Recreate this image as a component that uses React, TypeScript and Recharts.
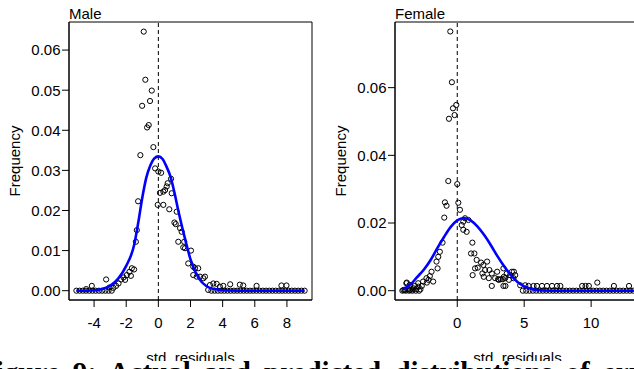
import React from 'react';
import {
  ComposedChart,
  Scatter,
  Line,
  XAxis,
  YAxis,
  ReferenceLine,
  ReferenceArea,
  Label,
} from 'recharts';

const FONT = '"Liberation Sans", Arial, Helvetica, sans-serif';

// ---- Male panel ----
const maleXTicks = [-4, -2, 0, 2, 4, 6, 8];
const maleYTicks = [0, 0.01, 0.02, 0.03, 0.04, 0.05, 0.06];
const maleXDomain: [number, number] = [-5.56, 9.56];
const maleYDomain: [number, number] = [-0.00232, 0.067];

const malePeak: [number, number][] = [
  [-1.12, 0.0338], [-1.01, 0.0461], [-0.91, 0.0646], [-0.81, 0.0526], [-0.7, 0.0407],
  [-0.6, 0.0413], [-0.52, 0.0473], [-0.41, 0.0499], [-0.31, 0.0358], [-0.2, 0.0305],
  [0.0, 0.0297], [0.17, 0.0294], [0.79, 0.0279], [0.58, 0.0268], [0.52, 0.026],
  [0.42, 0.0251], [0.31, 0.0247], [0.1, 0.0244], [0.83, 0.0243], [-0.04, 0.0214],
  [0.31, 0.0214], [0.68, 0.0203], [1.14, 0.0197], [1.0, 0.017], [1.08, 0.0166],
  [1.35, 0.0156], [1.45, 0.0147], [1.24, 0.0122], [1.61, 0.0122], [1.55, 0.0108],
  [1.66, 0.0106], [2.03, 0.01], [1.86, 0.0068], [2.17, 0.006], [2.28, 0.0056],
  [2.48, 0.0056], [2.17, 0.0039], [2.39, 0.0035], [2.59, 0.0035], [2.8, 0.0031],
  [2.9, 0.0035], [3.1, 0.0002], [3.21, 0.0014], [3.42, 0.0018], [3.63, 0.0017],
  [3.83, 0.001], [4.04, 0.0012],
];

const maleLeftArm: [number, number][] = [
  [-1.26, 0.0223], [-1.34, 0.0151], [-1.4, 0.0122], [-1.51, 0.0053], [-1.65, 0.0056],
  [-1.71, 0.0037], [-1.8, 0.0047], [-1.96, 0.0039], [-2.07, 0.0027], [-2.17, 0.0033],
  [-2.32, 0.0028], [-2.48, 0.0018], [-2.63, 0.0012], [-2.8, 0.0007], [-3.04, 0.0008],
  [-3.25, 0.0028], [-4.14, 0.0012], [-4.49, 0.0004],
];

const maleRightTail: [number, number][] = [
  [4.47, 0.0016], [5.07, 0.0015], [5.28, 0.0013], [6.11, 0.0012], [7.66, 0.0013], [7.97, 0.0013],
];

const maleZeroX = [
  -5.1, -4.9, -4.7, -4.5, -4.3, -4.1, -3.9, -3.7, -3.5, -3.3, -3.1, -2.9,
  3.3, 3.5, 3.7, 3.9, 4.1, 4.3, 4.5, 4.7, 4.9, 5.1, 5.3, 5.5, 5.7, 5.9, 6.1, 6.3,
  6.5, 6.7, 6.9, 7.1, 7.3, 7.5, 7.7, 7.9, 8.1, 8.3, 8.5, 8.7, 8.9, 9.1,
];

const maleCurveX = [
  -5.1, -4.5, -4, -3.5, -3, -2.5, -2, -1.5, -1.25, -1, -0.75, -0.5, -0.25, 0, 0.25, 0.5,
  0.75, 1, 1.25, 1.5, 1.75, 2, 2.5, 3, 3.5, 4, 5, 6, 7, 8, 9.1,
];
const maleCurveY = [
  0, 0, 0.0001, 0.0004, 0.0012, 0.003, 0.0062, 0.0115, 0.017, 0.0232, 0.0282, 0.0312,
  0.033, 0.0335, 0.0329, 0.031, 0.0285, 0.0245, 0.0198, 0.0155, 0.0115, 0.0078, 0.0032,
  0.0011, 0.0004, 0.0001, 0, 0, 0, 0, 0,
];

// ---- Female panel ----
const femaleXTicks = [0, 5, 10];
const femaleYTicks = [0, 0.02, 0.04, 0.06];
const femaleXDomain: [number, number] = [-4.65, 13.65];
const femaleYDomain: [number, number] = [-0.00275, 0.0794];

const femalePeak: [number, number][] = [
  [-0.52, 0.0766], [-0.4, 0.0616], [-0.07, 0.0549], [-0.32, 0.0539], [-0.2, 0.0519],
  [-0.62, 0.0508], [-0.67, 0.0324], [0.0, 0.0315], [-0.92, 0.0261], [-0.8, 0.0251],
  [0.08, 0.026], [0.2, 0.0239], [-0.97, 0.0216], [0.45, 0.0204], [0.58, 0.0214],
  [0.83, 0.0209], [0.33, 0.0194], [0.45, 0.018], [0.7, 0.0174], [-1.1, 0.0142],
  [1.13, 0.0142], [1.03, 0.011], [1.28, 0.011],
];

const femaleLeftArm: [number, number][] = [
  [-1.3, 0.0115], [-1.42, 0.01], [-1.55, 0.0086], [-1.47, 0.0066], [-1.92, 0.0056],
  [-2.05, 0.0043], [-1.8, 0.0027], [-2.3, 0.0037], [-2.55, 0.0027], [-2.92, 0.0022],
  [-3.17, 0.0014], [-3.55, 0.0017], [-3.8, 0.0022], [-3.92, 0.0002], [-2.15, 0.0032],
  [-2.27, 0.0024], [-2.65, 0.0014], [-2.9, 0.0012], [-3.27, 0.0007], [-3.77, 0.0024],
  [-3.52, 0.0002], [-4.02, 0.0002], [-3.65, 0.0005], [-3.35, 0.0004], [-3.05, 0.0005],
  [-2.75, 0.0004],
];

const femaleRightArm: [number, number][] = [
  [1.45, 0.0091], [1.78, 0.0083], [1.53, 0.0068], [1.95, 0.0076], [2.08, 0.0061],
  [2.4, 0.0061], [1.33, 0.0066], [1.88, 0.0051], [2.58, 0.0051], [2.83, 0.0037],
  [3.05, 0.0034], [3.25, 0.0034], [3.4, 0.0034], [1.15, 0.0046], [2.58, 0.0014],
  [3.45, 0.0014], [3.95, 0.0046], [2.23, 0.0086], [1.98, 0.0041], [2.36, 0.0037],
  [2.98, 0.0056], [3.48, 0.0041], [3.1, 0.0032], [4.23, 0.0056], [3.86, 0.0032],
  [3.6, 0.0014], [3.45, 0.0066], [3.7, 0.0051], [4.08, 0.0056], [4.2, 0.0037],
  [3.58, 0.0037], [4.33, 0.0046],
];

const femaleRightTail: [number, number][] = [
  [4.7, 0.0016], [5.08, 0.0016], [5.33, 0.0014], [5.7, 0.0014], [5.95, 0.0014],
  [6.33, 0.0014], [6.7, 0.0014], [7.08, 0.0014], [7.45, 0.0014], [7.7, 0.0014],
  [9.33, 0.0014], [9.58, 0.0014], [9.83, 0.0014], [10.46, 0.0024], [11.7, 0.0014],
  [12.83, 0.0014],
];

const femaleZeroX = [
  -4.1, -3.85, -3.6, -3.35, -3.1, -2.85,
  4.9, 5.15, 5.4, 5.65, 5.9, 6.15, 6.4, 6.65, 6.9, 7.15, 7.4, 7.65, 7.9, 8.15, 8.4,
  8.65, 8.9, 9.15, 9.4, 9.65, 9.9, 10.15, 10.4, 10.65, 10.9, 11.15, 11.4, 11.65, 11.9,
  12.15, 12.4, 12.65, 12.9, 13.15,
];

const femaleCurveX = [
  -4.05, -3.5, -3, -2.5, -2, -1.5, -1, -0.5, 0, 0.5, 1, 1.5, 2, 2.5, 3, 3.5, 4, 4.5, 5,
  5.5, 6, 7, 8, 10, 12, 13.3,
];
const femaleCurveY = [
  0.0005, 0.0018, 0.004, 0.0062, 0.009, 0.0125, 0.0158, 0.0188, 0.0208, 0.0215, 0.0208,
  0.019, 0.0165, 0.0135, 0.0102, 0.0072, 0.0046, 0.0026, 0.0013, 0.0006, 0.0002, 0, 0, 0,
  0, 0,
];

const caption = 'Figure 9: Actual and predicted distributions of errors';

const pairs = (list: [number, number][]) => list.map(([x, y]) => ({ x, y }));
const zeros = (xs: number[]) => xs.map((x) => ({ x, y: 0 }));
const curve = (xs: number[], ys: number[]) => xs.map((x, i) => ({ x, y: ys[i] }));

const malePoints = [
  ...zeros(maleZeroX),
  ...pairs(maleLeftArm),
  ...pairs(malePeak),
  ...pairs(maleRightTail),
];
const femalePoints = [
  ...zeros(femaleZeroX),
  ...pairs(femaleLeftArm),
  ...pairs(femalePeak),
  ...pairs(femaleRightArm),
  ...pairs(femaleRightTail),
];

const tickStyle = { fill: '#000', fontSize: 15, fontFamily: FONT };
const lineStyle = { stroke: '#000', strokeWidth: 1 };

// open circle, like R's pch = 1
const Ring = (p: any) => (
  <circle cx={p.cx} cy={p.cy} r={2.6} fill="none" stroke="#000" strokeWidth={1} />
);

interface PanelProps {
  title: string;
  points: { x: number; y: number }[];
  fit: { x: number; y: number }[];
  xDomain: [number, number];
  yDomain: [number, number];
  xTicks: number[];
  yTicks: number[];
  width: number;
  margin: { top: number; right: number; bottom: number; left: number };
}

function Panel({ title, points, fit, xDomain, yDomain, xTicks, yTicks, width, margin }: PanelProps) {
  return (
    <ComposedChart width={width} height={369} margin={margin}>
      <XAxis
        type="number"
        dataKey="x"
        domain={xDomain}
        ticks={xTicks}
        interval={0}
        allowDataOverflow
        height={30}
        tickSize={7}
        tickMargin={10}
        tick={tickStyle}
        axisLine={lineStyle}
        tickLine={lineStyle}
      >
        <Label
          content={(p: any) => (
            <text
              x={p.viewBox.x + p.viewBox.width / 2}
              y={p.viewBox.y + 63}
              textAnchor="middle"
              fontSize={15}
              fontFamily={FONT}
              fill="#000"
            >
              std. residuals
            </text>
          )}
        />
      </XAxis>
      <YAxis
        type="number"
        dataKey="y"
        domain={yDomain}
        ticks={yTicks}
        interval={0}
        allowDataOverflow
        width={60}
        tickSize={7}
        tickMargin={1.5}
        tick={tickStyle}
        tickFormatter={(v: number) => v.toFixed(2)}
        axisLine={lineStyle}
        tickLine={lineStyle}
      >
        <Label
          content={(p: any) => {
            const cx = p.viewBox.x + 11;
            const cy = p.viewBox.y + p.viewBox.height / 2;
            return (
              <text
                x={cx}
                y={cy}
                transform={`rotate(-90 ${cx} ${cy})`}
                textAnchor="middle"
                fontSize={15}
                fontFamily={FONT}
                fill="#000"
              >
                Frequency
              </text>
            );
          }}
        />
      </YAxis>
      {/* plot frame, with the panel title sitting on its top-left corner */}
      <ReferenceArea
        x1={xDomain[0]}
        x2={xDomain[1]}
        y1={yDomain[0]}
        y2={yDomain[1]}
        fill="none"
        stroke="#000"
        strokeWidth={1}
        fillOpacity={0}
        label={(p: any) => (
          <text x={p.viewBox.x} y={p.viewBox.y - 3.5} fontSize={15} fontFamily={FONT} fill="#000">
            {title}
          </text>
        )}
      />
      <ReferenceLine x={0} stroke="#000" strokeWidth={1} strokeDasharray="4 3" />
      <Scatter data={points} shape={Ring} isAnimationActive={false} />
      <Line
        data={fit}
        dataKey="y"
        type="monotone"
        stroke="#0000ff"
        strokeWidth={2.6}
        dot={false}
        activeDot={false}
        isAnimationActive={false}
        zIndex={700}
      />
    </ComposedChart>
  );
}

export default function App() {
  return (
    <div
      style={{
        position: 'fixed',
        left: 0,
        top: 0,
        width: 634,
        height: 369,
        overflow: 'hidden',
        background: '#fff',
      }}
    >
      <div style={{ position: 'absolute', left: 0, top: 0 }}>
        <Panel
          title="Male"
          points={malePoints}
          fit={curve(maleCurveX, maleCurveY)}
          xDomain={maleXDomain}
          yDomain={maleYDomain}
          xTicks={maleXTicks}
          yTicks={maleYTicks}
          width={317}
          margin={{ top: 22, right: 5, bottom: 39, left: 9 }}
        />
      </div>
      <div style={{ position: 'absolute', left: 317, top: 0 }}>
        <Panel
          title="Female"
          points={femalePoints}
          fit={curve(femaleCurveX, femaleCurveY)}
          xDomain={femaleXDomain}
          yDomain={femaleYDomain}
          xTicks={femaleXTicks}
          yTicks={femaleYTicks}
          width={330}
          margin={{ top: 22, right: 7, bottom: 39, left: 18 }}
        />
      </div>
      <div
        style={{
          position: 'absolute',
          left: 0,
          top: 361,
          width: 634,
          height: 8,
          overflow: 'hidden',
          background: '#fff',
        }}
      >
        <div
          style={{
            position: 'absolute',
            left: -22,
            top: -3,
            whiteSpace: 'nowrap',
            font: 'bold 29px/29px "Liberation Serif", "Times New Roman", serif',
            wordSpacing: 6,
            color: '#000',
          }}
        >
          {caption}
        </div>
      </div>
    </div>
  );
}
